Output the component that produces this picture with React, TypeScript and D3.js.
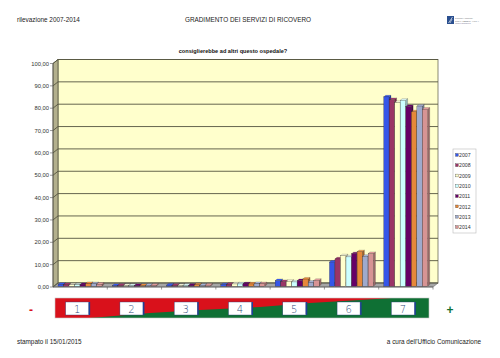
import React from "react";
import * as d3 from "d3";

const categories = ["1", "2", "3", "4", "5", "6", "7"];
const years = ["2007", "2008", "2009", "2010", "2011", "2012", "2013", "2014"];
const s2007 = [0.8, 0.3, 0.5, 0.6, 2.5, 10.8, 84.7];
const s2008 = [0.7, 0.4, 0.4, 0.8, 2.1, 12.2, 83.5];
const s2009 = [0.6, 0.3, 0.3, 1.0, 2.2, 13.6, 82.2];
const s2010 = [0.6, 0.3, 0.4, 1.0, 1.9, 13.1, 83.2];
const s2011 = [0.7, 0.3, 0.4, 1.1, 2.5, 14.5, 80.4];
const s2012 = [1.2, 0.3, 0.6, 1.0, 3.2, 15.4, 78.0];
const s2013 = [1.1, 0.4, 0.4, 1.2, 1.8, 13.4, 80.6];
const s2014 = [0.9, 0.4, 0.5, 1.1, 2.6, 14.6, 79.2];
const series = [s2007, s2008, s2009, s2010, s2011, s2012, s2013, s2014];
const colors = ["#3556e8", "#9a3566", "#ffffcc", "#ccffff", "#660066", "#e6883a", "#9faacc", "#d79494"];
const yTicks = [0, 10, 20, 30, 40, 50, 60, 70, 80, 90, 100];

const FONT = "'Liberation Sans', Arial, sans-serif";

export default function App() {
  const W = 500, H = 358;
  const x0 = 53, x1 = 433;
  const DX = 5, DY = 4;
  const y = d3.scaleLinear().domain([0, 100]).range([287, 63.5]);
  const xb = d3.scaleBand().domain(categories).range([x0, x1]).padding(0);
  const xi = d3.scaleBand().domain(years).range([4, 48]).paddingInner(0.04);
  const fmt = (v: number) => d3.format(".2f")(v).replace(".", ",");

  const bz = 0.2, bd = 0.4;
  const bars: any[] = [];
  series.forEach((s, si) => {
    s.forEach((v, ci) => {
      const bx = (xb(categories[ci]) as number) + (xi(years[si]) as number) + DX * bz;
      const bw = xi.bandwidth();
      const base = y(0) - DY * bz;
      const top = y(v) - DY * bz;
      const dx = DX * bd, dy = DY * bd;
      const c = d3.color(colors[si])!;
      bars.push(
        <g key={`${si}-${ci}`}>
          <polygon
            points={`${bx + bw},${top} ${bx + bw + dx},${top - dy} ${bx + bw + dx},${base - dy} ${bx + bw},${base}`}
            fill={c.darker(0.9).toString()} stroke="#222" strokeWidth={0.2}
          />
          <polygon
            points={`${bx},${top} ${bx + bw},${top} ${bx + bw + dx},${top - dy} ${bx + dx},${top - dy}`}
            fill={c.brighter(0.3).toString()} stroke="#222" strokeWidth={0.2}
          />
          <rect x={bx} y={top} width={bw} height={base - top} fill={colors[si]} stroke="#222" strokeWidth={0.25} />
        </g>
      );
    });
  });

  const sx0 = 55, sx1 = 429, sy0 = 298, sy1 = 318;
  const boxCenters = categories.map((c) => (xb(c) as number) + xb.bandwidth() / 2 - 3);

  return (
    <svg width={W} height={H} style={{ position: "absolute", left: 0, top: 0 }} fontFamily={FONT}>
      <rect width={W} height={H} fill="#fff" />
      <text x={17} y={22} fontSize={6.4} fill="#222">rilevazione 2007-2014</text>
      <text x={248} y={22} fontSize={6.4} fill="#222" textAnchor="middle">GRADIMENTO DEI SERVIZI DI RICOVERO</text>
      <g>
        <rect x={447} y={16} width={7} height={8} fill="#2a4f8f" />
        <path d="M448.5,23 L452.5,17 M450,23 L452,19" stroke="#fff" strokeWidth={0.6} />
        <text x={455} y={18.5} fontSize={2.8} fill="#334" fontFamily="'Liberation Serif', serif">FONDAZIONE</text>
        <text x={455} y={21.5} fontSize={2.8} fill="#334" fontFamily="'Liberation Serif', serif">POLIAMBULANZA</text>
        <text x={455} y={24.3} fontSize={2} fill="#557" fontFamily="'Liberation Serif', serif">Istituto Ospedaliero</text>
      </g>
      <text x={233} y={53} fontSize={5.6} fontWeight="bold" fill="#111" textAnchor="middle">consiglierebbe ad altri questo ospedale?</text>

      <rect x={x0 + DX} y={y(100) - DY} width={x1 - x0} height={y(0) - y(100)} fill="#ffffcc" stroke="#6b6b55" strokeWidth={0.8} />
      <polygon
        points={`${x0},${y(0)} ${x0},${y(100)} ${x0 + DX},${y(100) - DY} ${x0 + DX},${y(0) - DY}`}
        fill="#b3b08d" stroke="#55553f" strokeWidth={0.8}
      />
      <polygon
        points={`${x0},${y(0)} ${x1},${y(0)} ${x1 + DX},${y(0) - DY} ${x0 + DX},${y(0) - DY}`}
        fill="#a6a6a6" stroke="#666" strokeWidth={0.6}
      />
      {yTicks.map((t) => (
        <g key={t}>
          <line x1={x0 + DX} x2={x1 + DX} y1={y(t) - DY} y2={y(t) - DY} stroke="#55553f" strokeWidth={0.9} />
          <line x1={x0} x2={x0 + DX} y1={y(t)} y2={y(t) - DY} stroke="#55553f" strokeWidth={0.9} />
          <line x1={x0 - 3} x2={x0} y1={y(t)} y2={y(t)} stroke="#555" strokeWidth={0.6} />
          <text x={x0 - 4} y={y(t) + 2} fontSize={5.8} fill="#333" textAnchor="end">{fmt(t)}</text>
        </g>
      ))}
      <line x1={x0} x2={x0} y1={y(0)} y2={y(100)} stroke="#555" strokeWidth={0.6} />
      <line x1={x0} x2={x1} y1={y(0)} y2={y(0)} stroke="#555" strokeWidth={0.6} />
      {categories.map((c, i) => {
        const xx = (xb(c) as number) + xb.bandwidth();
        return <line key={i} x1={xx} x2={xx} y1={y(0)} y2={y(0) + 2.5} stroke="#555" strokeWidth={0.6} />;
      })}
      {bars}

      <rect x={453} y={149} width={23} height={84} fill="#fff" stroke="#bbb" strokeWidth={0.6} />
      {years.map((yr, i) => (
        <g key={yr}>
          <rect x={455.5} y={153.5 + i * 10.3} width={2.8} height={2.8} fill={colors[i]} stroke="#333" strokeWidth={0.3} />
          <text x={459} y={157 + i * 10.3} fontSize={5.2} fill="#333">{yr}</text>
        </g>
      ))}

      <rect x={sx0} y={sy0} width={sx1 - sx0} height={sy1 - sy0} fill="#d9111b" />
      <polygon
        points={`${90},${sy1} ${150},${313} ${200},${310} ${260},${307} ${310},${303} ${360},${300} ${392},${sy0} ${sx1},${sy0} ${sx1},${sy1}`}
        fill="#0f7034"
      />
      <rect x={sx0} y={sy0} width={sx1 - sx0} height={sy1 - sy0} fill="none" stroke="#c8c8c8" strokeWidth={0.6} />
      {boxCenters.map((cx, i) => (
        <g key={i}>
          <rect x={cx - 10} y={302} width={23} height={13} fill="#1d3f9a" />
          <rect x={cx - 11.5} y={302} width={23} height={13} fill="#fff" stroke="#2a3f7a" strokeWidth={0.4} />
          <text x={cx} y={312.5} fontSize={10} fill="#2d4a7a" textAnchor="middle" fontFamily="'DejaVu Sans', sans-serif" fontWeight={300}>{categories[i]}</text>
        </g>
      ))}
      <text x={31} y={314} fontSize={12} fontWeight="bold" fill="#d9111b" textAnchor="middle">-</text>
      <text x={450} y={314} fontSize={12} fontWeight="bold" fill="#0f7034" textAnchor="middle">+</text>

      <text x={17} y={344} fontSize={6.4} fill="#222">stampato il 15/01/2015</text>
      <text x={481} y={344} fontSize={6.4} fill="#222" textAnchor="end">a cura dell'Ufficio Comunicazione</text>
    </svg>
  );
}
